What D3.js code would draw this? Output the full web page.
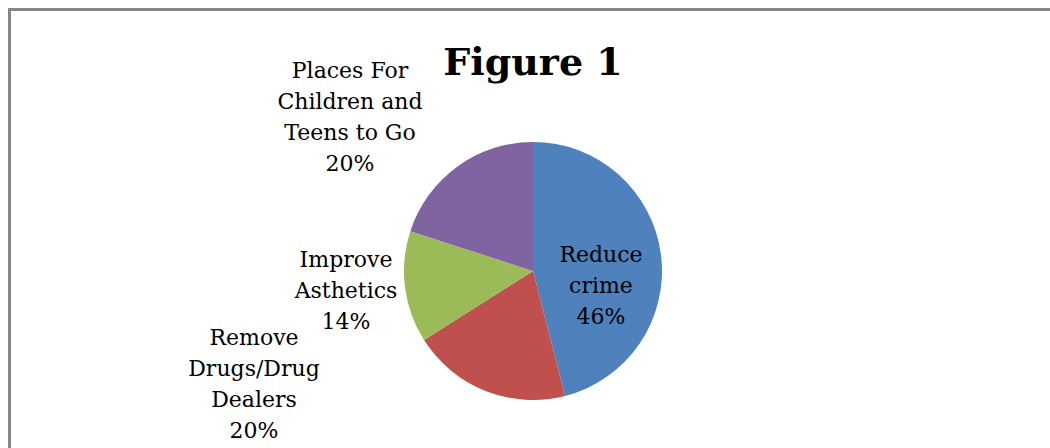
<!DOCTYPE html>
<html>
<head>
<meta charset="utf-8">
<script src="https://cdn.jsdelivr.net/npm/d3@7"></script>
<style>
  html, body { margin: 0; padding: 0; background: #fff; }
  svg { display: block; }
  .label { font-family: "DejaVu Serif", serif; font-size: 22px; fill: #000; }
  .title { font-family: "DejaVu Serif", serif; font-weight: bold; font-size: 38px; fill: #000; }
</style>
</head>
<body>
<div id="chart"></div>
<script>
// chart data
const categories = ["Reduce crime", "Remove Drugs/Drug Dealers", "Improve Asthetics", "Places For Children and Teens to Go"];
const values = [46, 20, 14, 20];
const colors = ["#4F81BD", "#C0504D", "#9BBB59", "#8064A2"];
// how each label breaks into lines (last line is the percentage)
const labelLines = [
    ["Reduce", "crime"],
    ["Remove", "Drugs/Drug", "Dealers"],
    ["Improve", "Asthetics"],
    ["Places For", "Children and", "Teens to Go"]
];

const width = 1050, height = 448;
const cx = 533, cy = 271, radius = 129;
const lineH = 31;
// label centres (x) and first baseline (y), relative to the pie centre
const labelOffsets = [
    [68, -9],
    [-279, 74],
    [-187, -4],
    [-183, -193]
];

const svg = d3.select("#chart").append("svg")
    .attr("width", width).attr("height", height);

// chart area border (right/bottom edges run off the picture)
svg.append("rect")
    .attr("x", 9.5).attr("y", 9.5)
    .attr("width", 1200).attr("height", 600)
    .attr("fill", "none")
    .attr("stroke", "#868686")
    .attr("stroke-width", 3);

svg.append("text")
    .attr("class", "title")
    .attr("x", cx).attr("y", 75)
    .attr("text-anchor", "middle")
    .text("Figure 1");

const pie = d3.pie().sort(null).value(d => d)(values);
const arc = d3.arc().innerRadius(0).outerRadius(radius);

const g = svg.append("g").attr("transform", `translate(${cx},${cy})`);

g.selectAll("path")
    .data(pie)
    .join("path")
    .attr("d", arc)
    .attr("fill", (d, i) => colors[i]);

const total = d3.sum(values);
pie.forEach((d, i) => {
    const lines = labelLines[i].concat([Math.round(d.value / total * 100) + "%"]);
    const t = g.append("text")
        .attr("class", "label")
        .attr("text-anchor", "middle");
    lines.forEach((s, j) => {
        t.append("tspan")
            .attr("x", labelOffsets[i][0])
            .attr("y", labelOffsets[i][1] + j * lineH)
            .text(s);
    });
});
</script>
</body>
</html>
